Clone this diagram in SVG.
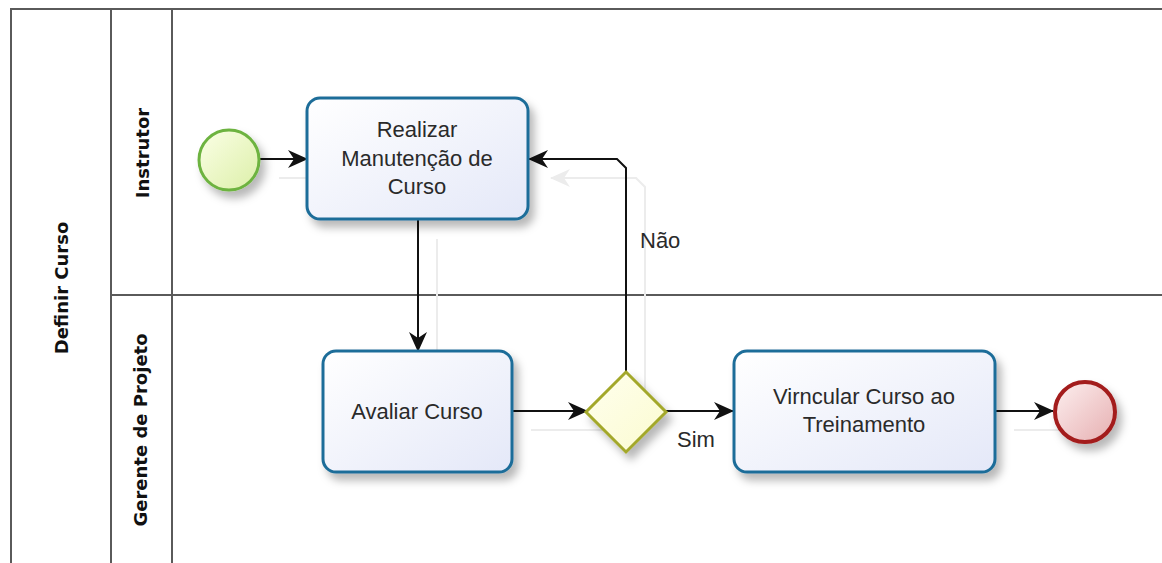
<svg xmlns="http://www.w3.org/2000/svg" width="1162" height="563" viewBox="0 0 1162 563">
<style>
.pool{stroke:#5a5a5a;stroke-width:2;fill:none}
.lbl{font-family:"DejaVu Sans",sans-serif;font-weight:bold;font-size:18px;fill:#111;text-anchor:middle}
.task{fill:url(#gTask);stroke:#1f6d99;stroke-width:3;filter:url(#sh)}
.tt{font-family:"Liberation Sans",Arial,sans-serif;font-size:22px;fill:#2a2a2a;text-anchor:middle}
.flow{fill:none;stroke:#111;stroke-width:2;marker-end:url(#arr)}
.ghost{fill:none;stroke:#ececec;stroke-width:2}
.cl{font-family:"Liberation Sans",Arial,sans-serif;font-size:22px;fill:#2a2a2a}
</style>
<defs>
<linearGradient id="gTask" x1="0" y1="0" x2="1" y2="1"><stop offset="0" stop-color="#ffffff"/><stop offset="1" stop-color="#e4e8f8"/></linearGradient>
<linearGradient id="gStart" x1="0" y1="0" x2="1" y2="1"><stop offset="0" stop-color="#fbffe6"/><stop offset="1" stop-color="#dcefa8"/></linearGradient>
<linearGradient id="gEnd" x1="0" y1="0" x2="1" y2="1"><stop offset="0" stop-color="#fdf0f0"/><stop offset="1" stop-color="#e6aeb0"/></linearGradient>
<linearGradient id="gGw" x1="0" y1="0" x2="1" y2="1"><stop offset="0" stop-color="#ffffee"/><stop offset="1" stop-color="#fbfbd0"/></linearGradient>
<filter id="sh" x="-20%" y="-20%" width="150%" height="160%"><feDropShadow dx="5" dy="7" stdDeviation="4" flood-color="#000" flood-opacity="0.28"/></filter>
<marker id="arr" markerUnits="userSpaceOnUse" markerWidth="20" markerHeight="20" refX="19" refY="10" orient="auto"><path d="M0,1 L20,10 L0,19 L6,10 Z" fill="#111"/></marker>
<marker id="arrG" markerUnits="userSpaceOnUse" markerWidth="20" markerHeight="20" refX="19" refY="10" orient="auto"><path d="M0,1 L20,10 L0,19 L6,10 Z" fill="#ececec"/></marker>
</defs>
<rect width="1162" height="563" fill="#ffffff"/>
<g id="pool">
<path class="pool" d="M11,563 L11,9 L1162,9 M111,9 L111,563 M172,9 L172,563 M111,295 L1162,295"/>
<text class="lbl" transform="translate(68,288) rotate(-90)">Definir Curso</text>
</g>
<g id="lane-instrutor"><text class="lbl" transform="translate(149,153) rotate(-90)">Instrutor</text></g>
<g id="lane-gerente"><text class="lbl" transform="translate(147,430) rotate(-90)">Gerente de Projeto</text></g>
<g id="connectors">
<path class="ghost" d="M279,178 L326,178"/>
<path class="ghost" d="M437,239 L437,350"/>
<path class="ghost" d="M531,430 L606,430"/>
<path class="ghost" d="M645,391 L645,187 L636,178 L551,178" marker-end="url(#arrG)"/>
<path class="ghost" d="M1014,430 L1070,430"/>
<path class="flow" d="M260,159 L307,159"/>
<path class="flow" d="M418,220 L418,351"/>
<path class="flow" d="M512,411 L587,411"/>
<path class="flow" d="M626,372 L626,168 L617,159 L529,159"/>
<path class="flow" d="M666,411 L733,411"/>
<path class="flow" d="M995,411 L1053,411"/>
<text class="cl" x="640" y="248">Não</text>
<text class="cl" x="677" y="447">Sim</text>
</g>
<g id="start"><circle cx="229" cy="160" r="30" fill="url(#gStart)" stroke="#6db33f" stroke-width="3" filter="url(#sh)"/></g>
<g id="task-realizar">
<rect class="task" x="307" y="98" width="221" height="121" rx="13"/>
<text class="tt" x="417" y="137">Realizar</text>
<text class="tt" x="417" y="166">Manutenção de</text>
<text class="tt" x="417" y="194">Curso</text>
</g>
<g id="task-avaliar">
<rect class="task" x="323" y="351" width="189" height="121" rx="13"/>
<text class="tt" x="417" y="419">Avaliar Curso</text>
</g>
<g id="gateway"><path d="M626,372 L666,412 L626,452 L586,412 Z" fill="url(#gGw)" stroke="#a3a82a" stroke-width="3" filter="url(#sh)"/></g>
<g id="task-vincular">
<rect class="task" x="734" y="351" width="261" height="121" rx="13"/>
<text class="tt" x="864" y="404">Virncular Curso ao</text>
<text class="tt" x="864" y="432">Treinamento</text>
</g>
<g id="end"><circle cx="1085" cy="412" r="30" fill="url(#gEnd)" stroke="#a31c1c" stroke-width="4" filter="url(#sh)"/></g>
</svg>
